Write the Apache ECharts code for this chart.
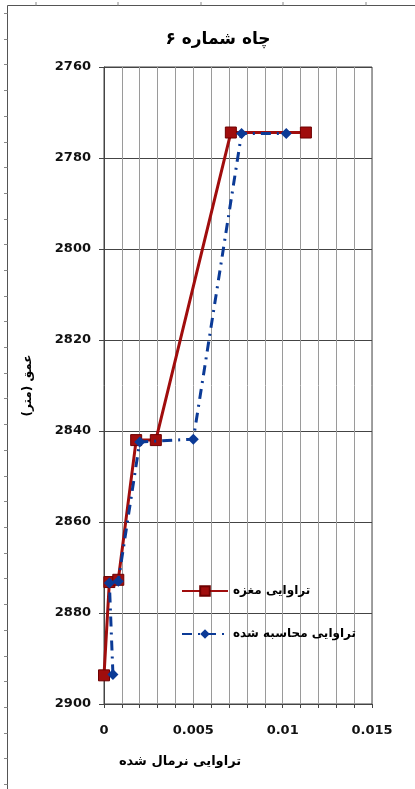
<!DOCTYPE html>
<html>
<head>
<meta charset="utf-8">
<script src="https://cdn.jsdelivr.net/npm/echarts@6/dist/echarts.min.js"></script>
<style>
html,body{margin:0;padding:0;background:#fff;}
#c{width:415px;height:789px;}
</style>
</head>
<body>
<div id="c"></div>
<script>
// ---- data ----
const titleText = 'چاه شماره ۶';
const yAxisTitle = 'عمق (متر)';
const xAxisTitle = 'تراوایی نرمال شده';
const coreName = 'تراوایی مغزه';
const calcName = 'تراوایی محاسبه شده';

const corePerm  = [0.0000, 0.0003, 0.0008, 0.0018, 0.0029, 0.0071, 0.0113];
const coreDepth = [2893.7, 2873.2, 2872.7, 2842.0, 2842.0, 2774.4, 2774.4];

const calcPerm  = [0.0005, 0.0003, 0.0008, 0.0020, 0.0050, 0.0077, 0.0102];
const calcDepth = [2893.5, 2873.4, 2873.0, 2842.4, 2841.8, 2774.6, 2774.6];

const xMin = 0, xMax = 0.015, xStep = 0.005;
const yMin = 2760, yMax = 2900, yStep = 20;

const pairs = (xs, ys) => xs.map((x, i) => [x, ys[i]]);

const chart = echarts.init(document.getElementById('c'), null, {renderer: 'canvas'});
const FONT = "'DejaVu Sans', 'Noto Sans', sans-serif";

// decorative outer frame ticks
const frame = [
  {type:'line', shape:{x1:7.5, y1:5.5, x2:415, y2:5.5}, style:{stroke:'#555', lineWidth:1}},
  {type:'line', shape:{x1:7.5, y1:5.5, x2:7.5, y2:789}, style:{stroke:'#555', lineWidth:1}}
];
[36, 118, 201, 283, 366].forEach(x => frame.push({type:'line', shape:{x1:x, y1:2, x2:x, y2:5.5}, style:{stroke:'#888', lineWidth:1}}));
for (let y = 13; y < 789; y += 25.7) frame.push({type:'line', shape:{x1:4, y1:Math.round(y)+0.5, x2:7.5, y2:Math.round(y)+0.5}, style:{stroke:'#888', lineWidth:1}});

chart.setOption({
  animation: false,
  backgroundColor: '#fff',
  title: {
    text: titleText, left: 213, top: 26, textAlign: 'center',
    textStyle: {fontFamily: FONT, fontWeight: 'bold', fontSize: 17, color: '#000'}
  },
  legend: {
    orient: 'vertical', left: 176, top: 580, itemGap: 31,
    itemWidth: 46, itemHeight: 12,
    textStyle: {fontFamily: FONT, fontWeight: 'bold', fontSize: 12, color: '#000'},
    data: [coreName, calcName]
  },
  grid: {left: 104, right: 43, top: 67, bottom: 85, show: true, borderColor: '#444', borderWidth: 1, containLabel: false},
  xAxis: {
    type: 'value', min: xMin, max: xMax, interval: xStep,
    axisLine: {show: true, lineStyle: {color: '#444'}},
    axisTick: {show: true, length: 4, lineStyle: {color: '#444'}},
    minorTick: {show: true, splitNumber: 5, length: 4, lineStyle: {color: '#444'}},
    splitLine: {show: true, lineStyle: {color: '#9a9a9a', width: 1}},
    minorSplitLine: {show: true, lineStyle: {color: '#9a9a9a', width: 1}},
    axisLabel: {margin: 20, fontFamily: FONT, fontWeight: 'bold', fontSize: 13, color: '#111',
      formatter: v => String(+v.toFixed(4))}
  },
  yAxis: {
    type: 'value', inverse: true, min: yMin, max: yMax, interval: yStep,
    name: yAxisTitle, nameLocation: 'middle', nameGap: 70, nameRotate: 90,
    nameTextStyle: {fontFamily: FONT, fontWeight: 'bold', fontSize: 12, color: '#000'},
    axisLine: {show: true, lineStyle: {color: '#444'}},
    axisTick: {show: true, length: 5, inside: false, lineStyle: {color: '#444'}},
    splitLine: {show: true, lineStyle: {color: '#444', width: 1}},
    axisLabel: {margin: 13, fontFamily: FONT, fontWeight: 'bold', fontSize: 13, color: '#111',
      formatter: v => String(v)}
  },
  graphic: frame.concat([
    {type:'text', x: 180, y: 762, style:{text: xAxisTitle, textAlign:'center', textVerticalAlign:'middle', font: "bold 13px 'DejaVu Sans', sans-serif", fill:'#000'}}
  ]),
  series: [
    {
      name: coreName, type: 'line', data: pairs(corePerm, coreDepth),
      symbol: 'rect', symbolSize: 11,
      lineStyle: {color: '#a00d0d', width: 3},
      itemStyle: {color: '#a00d0d', borderColor: '#6e0000', borderWidth: 1},
      z: 3
    },
    {
      name: calcName, type: 'line', data: pairs(calcPerm, calcDepth),
      symbol: 'diamond', symbolSize: 11,
      lineStyle: {color: '#0b3a96', width: 3, type: [10, 6, 2, 6]},
      itemStyle: {color: '#0b3a96'},
      z: 4
    }
  ]
});
</script>
</body>
</html>
